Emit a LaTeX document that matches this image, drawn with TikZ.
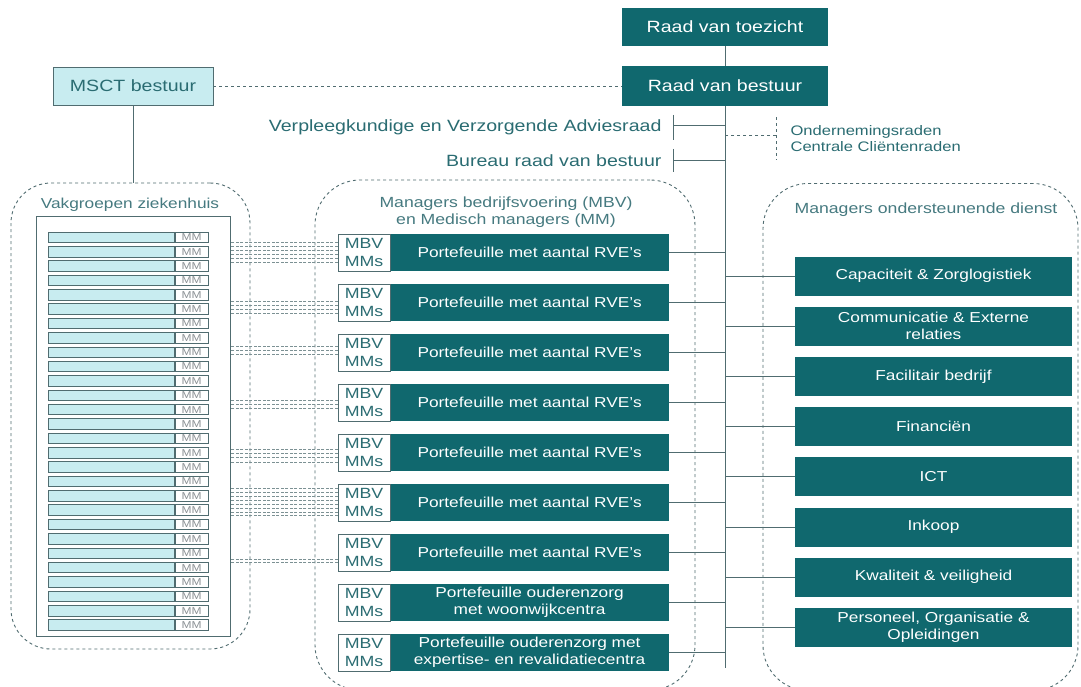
\documentclass[tikz,border=0pt]{standalone}
\usepackage{fontspec}
\setmainfont[FakeStretch=1.2]{Liberation Sans}
\usetikzlibrary{positioning}
\definecolor{rvbteal}{RGB}{16,104,110}
\definecolor{vglight}{RGB}{200,236,240}
\definecolor{linegray}{RGB}{80,108,112}
\definecolor{tealtext}{RGB}{42,108,114}
\definecolor{titletext}{RGB}{70,122,128}
\definecolor{mmgray}{RGB}{140,146,150}
\tikzset{
  tealbox/.style={fill=rvbteal, text=white, inner sep=0pt, align=center},
  mbvbox/.style={draw=linegray, line width=0.8pt, fill=white, text=tealtext, inner sep=0pt,
    minimum width=52pt, minimum height=37pt, align=left, font=\fontsize{14.8}{17.5}\selectfont},
  groupbox/.style={draw=linegray, dashed, line width=0.9pt},
  conn/.style={draw=linegray, line width=0.9pt},
  mmlink/.style={draw=linegray!75, dash pattern=on 3pt off 1.5pt, line width=0.6pt},
  rowcell/.style={draw=linegray, line width=0.8pt, inner sep=0pt, minimum height=10.5pt, anchor=west},
}
\begin{document}
\begin{tikzpicture}[x=1pt, y=-1pt]
\fill[white] (0,0) rectangle (1081,687);
\useasboundingbox (0,0) rectangle (1081,687);

\node[tealbox, minimum width=206pt, minimum height=38pt, font=\fontsize{16.3}{19}\selectfont] (rvt) at (725,27) {Raad van toezicht};
\node[tealbox, minimum width=206pt, minimum height=40pt, font=\fontsize{16.3}{19}\selectfont] (rvb) at (725,86) {Raad van bestuur};
\node[draw=linegray, line width=0.8pt, fill=vglight, text=tealtext, minimum width=160pt, minimum height=38pt,
  font=\fontsize{16.3}{19}\selectfont] (msct) at (133,86) {MSCT bestuur};
\coordinate (spineend) at (725,668);
\draw[conn] (rvt) -- (rvb);
\draw[conn] (rvb.south) -- (rvb.south |- spineend);
\draw[linegray, dashed, line width=0.8pt] (msct) -- (rvb);

\node[anchor=east, text=tealtext, font=\fontsize{16.3}{19}\selectfont] (vvar) at (665,127) {Verpleegkundige en Verzorgende Adviesraad};
\draw[conn] ([xshift=8pt, yshift=12pt]vvar.east) -- ([xshift=8pt, yshift=-13pt]vvar.east);
\draw[conn] ([xshift=8pt, yshift=1.5pt]vvar.east) -- ([yshift=1.5pt]vvar.east -| rvb.south);
\node[anchor=east, text=tealtext, font=\fontsize{16.3}{19}\selectfont] (brvb) at (665,161) {Bureau raad van bestuur};
\draw[conn] ([xshift=8pt, yshift=12pt]brvb.east) -- ([xshift=8pt, yshift=-11pt]brvb.east);
\draw[conn] ([xshift=8pt, yshift=1pt]brvb.east) -- ([yshift=1pt]brvb.east -| rvb.south);

\node[anchor=west, align=left, text=tealtext, font=\fontsize{13.8}{16}\selectfont] (ondr) at (787,139) {Ondernemingsraden\\Centrale Cliëntenraden};
\draw[linegray, dashed, line width=0.8pt] ([xshift=-11pt, yshift=5pt]ondr.north west) -- ([xshift=-11pt, yshift=-4pt]ondr.south west);
\draw[linegray, dashed, line width=0.8pt] ([xshift=-11pt, yshift=4pt]ondr.west) -- ([yshift=4pt]ondr.west -| rvb.south);

% vakgroepen
\node[groupbox, rounded corners=40pt, minimum width=239pt, minimum height=466pt] (vakgroep) at (130.5,416) {};
\node[text=titletext, font=\fontsize{14.4}{17}\selectfont] (vaktitle) at (130,205) {Vakgroepen ziekenhuis};
\node[draw=linegray, line width=0.9pt, inner sep=0pt, minimum width=194pt, minimum height=420pt] (vakin) at (133.5,426.5) {};
\draw[conn] (msct.south) -- (msct.south |- vakgroep.north);
\foreach \i in {1,...,28} {
  \node[rowcell, fill=vglight, minimum width=126pt] (row\i) at (48, {237.3+14.36*(\i-1)}) {};
  \node[rowcell, fill=white, minimum width=33pt, text=mmgray, font=\fontsize{10}{10}\selectfont] (mm\i) at (row\i.east) {MM};
}

% managers bedrijfsvoering
\node[groupbox, rounded corners=45pt, minimum width=380pt, minimum height=510pt] (mbvgroep) at (505,435) {};
\node[text=titletext, align=center, font=\fontsize{14.7}{16.5}\selectfont] (mbvtitle) at (506,212) {Managers bedrijfsvoering (MBV)\\en Medisch managers (MM)};
\foreach \lbl [count=\k] in {Portefeuille met aantal RVE’s, Portefeuille met aantal RVE’s, Portefeuille met aantal RVE’s,
  Portefeuille met aantal RVE’s, Portefeuille met aantal RVE’s, Portefeuille met aantal RVE’s, Portefeuille met aantal RVE’s,
  {Portefeuille ouderenzorg\\met woonwijkcentra}, {Portefeuille ouderenzorg met\\expertise- en revalidatiecentra}} {
  \node[mbvbox] (mbv\k) at (364, {252.5+50*(\k-1)}) {MBV\\MMs};
  \node[tealbox, minimum width=278pt, minimum height=37pt, anchor=west, font=\fontsize{14.4}{17}\selectfont] (pf\k) at (mbv\k.east) {\lbl};
  \draw[conn] (pf\k.east) -- (pf\k.east -| rvb.south);
}
\foreach \k/\offs in {1/{-10,-6,-2,2,6,10}, 2/{-1.5,2.5,6.5,10.5}, 3/{-6,-2,2}, 4/{-2.5,1.5,5.5},
  5/{-3.5,0.5,5,9.5}, 6/{-14,-10,-6,-2,2,6,10,13}, 7/{6.5,9.5}}
  \foreach \d in \offs {
    \path ([yshift={-1pt*(\d)}]mbv\k.west) coordinate (mmend);
    \draw[mmlink] (mmend) -- (mmend -| vakin.east);
  }

% ondersteunende dienst
\node[groupbox, rounded corners=45pt, minimum width=315pt, minimum height=507pt] (ondgroep) at (920.5,437) {};
\node[text=titletext, font=\fontsize{14.7}{17}\selectfont] (ondtitle) at (926,210) {Managers ondersteunende dienst};
\foreach \lbl [count=\j] in {Capaciteit \& Zorglogistiek, {Communicatie \& Externe\\relaties}, Facilitair bedrijf,
  Financiën, ICT, Inkoop, Kwaliteit \& veiligheid, {Personeel, Organisatie \&\\Opleidingen}} {
  \node[tealbox, minimum width=277pt, minimum height=39pt, font=\fontsize{14.4}{17}\selectfont] (ond\j) at (933.5, {276+50.2*(\j-1)}) {\lbl};
  \draw[conn] (ond\j.west -| rvb.south) -- (ond\j.west);
}
\end{tikzpicture}
\end{document}
